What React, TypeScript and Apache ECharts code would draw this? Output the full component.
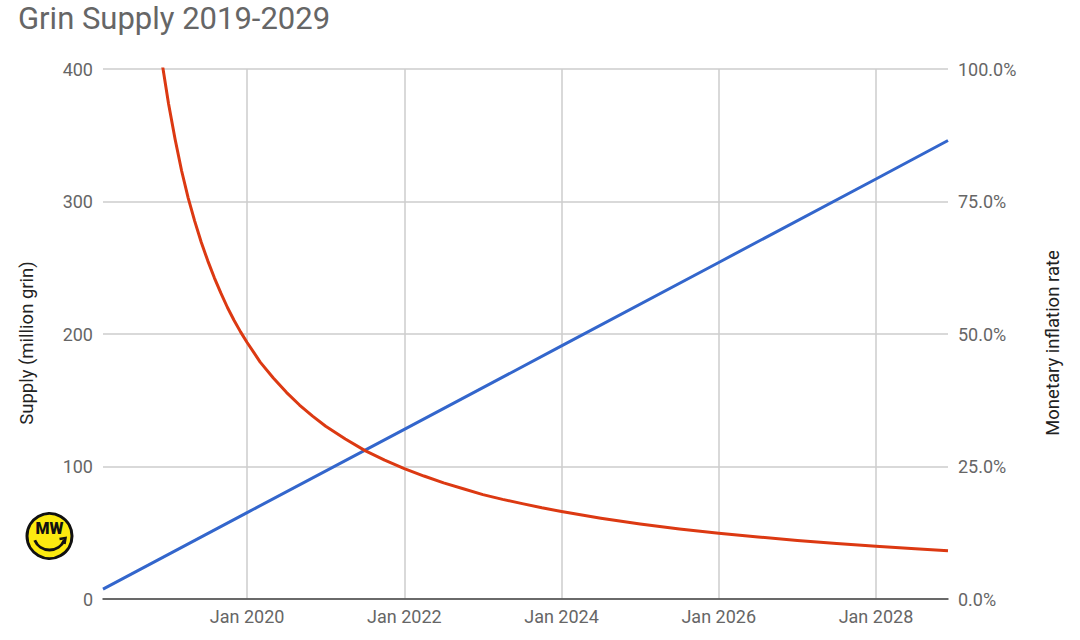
import React, { useEffect, useRef } from "react";
import * as echarts from "echarts";

const TITLE = "Grin Supply 2019-2029";
const LEFT_AXIS_NAME = "Supply (million grin)";
const RIGHT_AXIS_NAME = "Monetary inflation rate";

const MONTH_NAMES = ["Jan", "Feb", "Mar", "Apr", "May", "Jun", "Jul", "Aug", "Sep", "Oct", "Nov", "Dec"];
const START = { year: 2018, month: 2 }; // Mar 2018
const END = { year: 2028, month: 11 }; // Dec 2028
const LABEL_MONTHS = ["Jan 2020", "Jan 2022", "Jan 2024", "Jan 2026", "Jan 2028"];

const categories: string[] = [];
for (let y = START.year; y <= END.year; y++) {
  for (let m = 0; m < 12; m++) {
    if (y === START.year && m < START.month) continue;
    if (y === END.year && m > END.month) continue;
    categories.push(`${MONTH_NAMES[m]} ${y}`);
  }
}

// Supply (million grin)
const supplyDates = ["Mar 2018", "Jan 2020", "Jan 2022", "Jan 2024", "Jan 2026", "Jan 2028", "Dec 2028"];
const supplyValues = [7.5, 65.2, 128, 191, 254, 317, 346];

// Monetary inflation rate (%)
const inflationDates = [
  "Oct 2018", "Nov 2018", "Dec 2018", "Jan 2019", "Feb 2019", "Mar 2019", "Apr 2019", "May 2019",
  "Jun 2019", "Jul 2019", "Aug 2019", "Sep 2019", "Oct 2019", "Nov 2019", "Dec 2019", "Jan 2020",
  "Mar 2020", "May 2020", "Jul 2020", "Sep 2020", "Nov 2020", "Jan 2021", "Apr 2021", "Jul 2021",
  "Oct 2021", "Jan 2022", "Apr 2022", "Jul 2022", "Oct 2022", "Jan 2023", "Apr 2023", "Jul 2023",
  "Oct 2023", "Jan 2024", "Jul 2024", "Jan 2025", "Jul 2025", "Jan 2026", "Jul 2026", "Jan 2027",
  "Jul 2027", "Jan 2028", "Jul 2028", "Dec 2028",
];
const inflationValues = [
  121.6, 110.5, 101.3, 93.5, 86.8, 80.8, 75.7, 71.3,
  67.3, 63.8, 60.6, 57.7, 55.0, 52.6, 50.4, 48.4,
  44.7, 41.7, 39.0, 36.6, 34.5, 32.6, 30.2, 28.0,
  26.2, 24.6, 23.2, 21.9, 20.8, 19.7, 18.8, 18.0,
  17.2, 16.5, 15.25, 14.15, 13.2, 12.4, 11.7, 11.05,
  10.45, 9.95, 9.5, 9.1,
];

const LEFT_TICKS = [0, 100, 200, 300, 400];
const RIGHT_TICKS = [0, 25, 50, 75, 100];

const FONT = "Roboto";

export default function App() {
  const ref = useRef<HTMLDivElement>(null);

  useEffect(() => {
    if (!ref.current) return;
    const chart = echarts.init(ref.current, undefined, { renderer: "svg" });
    const isLabelCat = (_i: number, v: string) => LABEL_MONTHS.includes(v);

    chart.setOption({
      animation: false,
      backgroundColor: "#ffffff",
      textStyle: { fontFamily: FONT },
      title: {
        text: TITLE,
        left: 13,
        top: -2,
        textStyle: { fontFamily: FONT, fontSize: 31, fontWeight: "normal", color: "#666666" },
      },
      grid: { left: 103, right: 132, top: 69, bottom: 41, containLabel: false },
      xAxis: {
        type: "category",
        data: categories,
        boundaryGap: false,
        axisLine: { show: true, lineStyle: { color: "#444444", width: 1.5 } },
        axisTick: { show: false },
        axisLabel: {
          interval: isLabelCat,
          color: "#666666",
          fontSize: 18,
          fontFamily: FONT,
          margin: 8,
        },
        splitLine: {
          show: true,
          interval: isLabelCat,
          lineStyle: { color: "#cccccc", width: 1.5 },
        },
      },
      yAxis: [
        {
          type: "value",
          min: LEFT_TICKS[0],
          max: LEFT_TICKS[LEFT_TICKS.length - 1],
          interval: LEFT_TICKS[1] - LEFT_TICKS[0],
          axisLine: { show: false },
          axisTick: { show: false },
          axisLabel: { color: "#666666", fontSize: 18, fontFamily: FONT, margin: 10 },
          splitLine: { show: true, lineStyle: { color: "#cccccc", width: 1.5 } },
        },
        {
          type: "value",
          min: RIGHT_TICKS[0],
          max: RIGHT_TICKS[RIGHT_TICKS.length - 1],
          interval: RIGHT_TICKS[1] - RIGHT_TICKS[0],
          axisLine: { show: false },
          axisTick: { show: false },
          axisLabel: {
            color: "#666666",
            fontSize: 18,
            fontFamily: FONT,
            margin: 10,
            formatter: (v: number) => `${v.toFixed(1)}%`,
          },
          splitLine: { show: false },
        },
      ],
      series: [
        {
          name: "Supply",
          type: "line",
          yAxisIndex: 0,
          data: supplyDates.map((d, i) => [d, supplyValues[i]]),
          showSymbol: false,
          lineStyle: { color: "#3366cc", width: 3 },
          itemStyle: { color: "#3366cc" },
        },
        {
          name: "Inflation",
          type: "line",
          yAxisIndex: 1,
          data: inflationDates.map((d, i) => [d, inflationValues[i]]),
          smooth: false,
          clip: true,
          showSymbol: false,
          lineStyle: { color: "#dc3912", width: 3, join: "round" },
          itemStyle: { color: "#dc3912" },
        },
      ],
      graphic: [
        {
          type: "text",
          x: 27,
          y: 343,
          rotation: Math.PI / 2,
          style: {
            text: LEFT_AXIS_NAME,
            fontFamily: FONT,
            fontSize: 18.5,
            fill: "#222222",
            align: "center",
            verticalAlign: "middle",
          },
        },
        {
          type: "text",
          x: 1053,
          y: 343,
          rotation: Math.PI / 2,
          style: {
            text: RIGHT_AXIS_NAME,
            fontFamily: FONT,
            fontSize: 18.5,
            fill: "#222222",
            align: "center",
            verticalAlign: "middle",
          },
        },
        {
          type: "group",
          x: 49.5,
          y: 536,
          children: [
            {
              type: "circle",
              shape: { cx: 0, cy: 0, r: 22.5 },
              style: { fill: "#fcea10", stroke: "#111111", lineWidth: 3 },
            },
            {
              type: "text",
              x: 0,
              y: -8,
              style: {
                text: "MW",
                fontFamily: FONT,
                fontSize: 16,
                fontWeight: 900,
                fill: "#111111",
                align: "center",
                verticalAlign: "middle",
              },
            },
            {
              type: "arc",
              shape: { cx: 0, cy: -2, r: 16, startAngle: 0.4, endAngle: Math.PI - 0.4, clockwise: true },
              style: { stroke: "#111111", lineWidth: 3, fill: "none" },
            },
            {
              type: "polyline",
              shape: { points: [[10, 3], [16, 2], [15, 8]] },
              style: { stroke: "#111111", lineWidth: 2.5, fill: "none" },
            },
          ],
        },
      ],
    });

    return () => chart.dispose();
  }, []);

  return <div ref={ref} style={{ position: "fixed", left: 0, top: 0, width: 1080, height: 640 }} />;
}
